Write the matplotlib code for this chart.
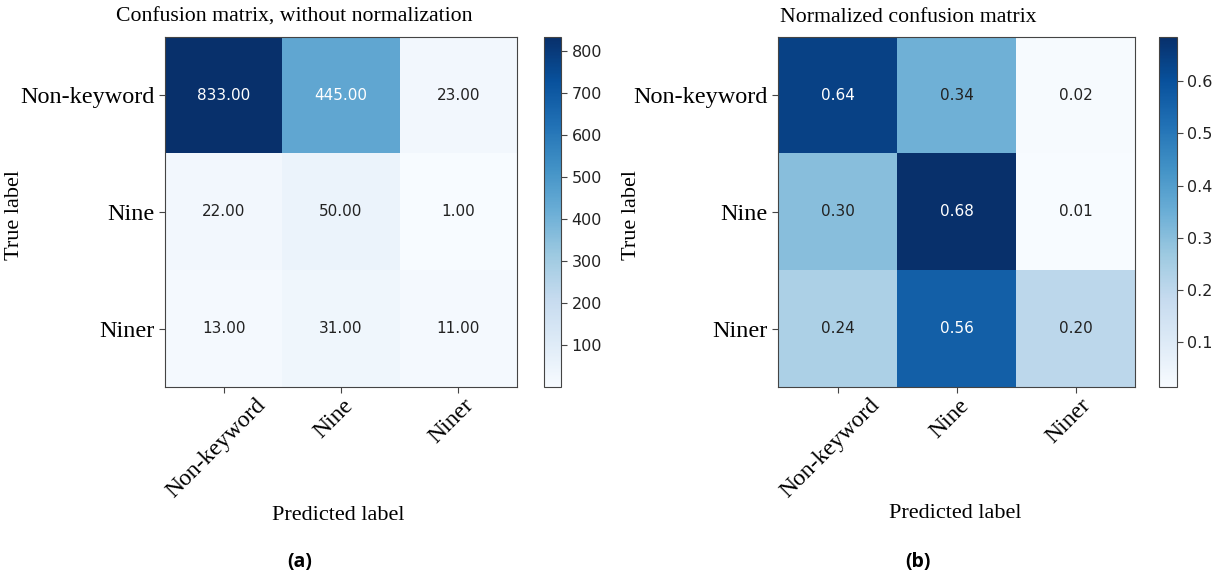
import numpy as np
import matplotlib
matplotlib.use("Agg")
import matplotlib.pyplot as plt
import matplotlib.transforms as mtransforms

classes = ["Non-keyword", "Nine", "Niner"]
counts = np.array([[833, 445, 23],
                   [22, 50, 1],
                   [13, 31, 11]], dtype=float)
normalized = counts / counts.sum(axis=1, keepdims=True)

W, H = 1225, 579
fig = plt.figure(figsize=(W / 100, H / 100), dpi=100)

serif = "Liberation Serif"
spine_col = "#444444"


def draw(ax_rect, cb_rect, cm, title, title_x, cb_ticks, cb_fmt,
         ylab_x, xlab_x, xlab_y, sub, sub_x):
    ax = fig.add_axes(ax_rect)
    im = ax.imshow(cm, cmap="Blues", interpolation="nearest", aspect="auto")
    thresh = cm.max() / 2.0
    for i in range(3):
        for j in range(3):
            ax.text(j, i, format(cm[i, j], ".2f"), ha="center", va="center",
                    fontsize=11, family="DejaVu Sans",
                    color="white" if cm[i, j] > thresh else "#222222")
    ax.set_xticks(range(3))
    ax.set_yticks(range(3))
    ax.set_xticklabels([""] * len(classes))
    ax.set_yticklabels(classes, family=serif, fontsize=17.5)
    offset = mtransforms.ScaledTranslation(-7 / 100, -8 / 100, fig.dpi_scale_trans)
    trans = ax.get_xaxis_transform() + offset
    for j, name in enumerate(classes):
        ax.text(j, 0, name, rotation=45, ha="center", va="top",
                family=serif, fontsize=17, transform=trans)
    ax.tick_params(color=spine_col, length=4)
    for s in ax.spines.values():
        s.set_color(spine_col)
    fig.text(title_x / W, 1 - 17 / H, title, ha="center", va="center",
             family=serif, fontsize=15.7)
    fig.text(ylab_x / W, 1 - 215 / H, "True label", ha="center", va="center",
             rotation=90, family=serif, fontsize=16)
    fig.text(xlab_x / W, 1 - xlab_y / H, "Predicted label", ha="center", va="center",
             family=serif, fontsize=16)
    cax = fig.add_axes(cb_rect)
    cb = fig.colorbar(im, cax=cax)
    cb.set_ticks(cb_ticks)
    cb.ax.set_yticklabels([cb_fmt(t) for t in cb_ticks])
    cb.ax.tick_params(labelsize=11.5, color=spine_col, labelcolor="#222222", length=4)
    cb.outline.set_edgecolor(spine_col)
    fig.text(sub_x / W, 1 - 562 / H, sub, ha="center", va="center",
             fontsize=14, fontweight="bold", family="Open Sans")
    return ax


draw([165 / W, 192 / H, 352 / W, 350 / H], [544 / W, 192 / H, 17 / W, 350 / H],
     counts, "Confusion matrix, without normalization", 294,
     [100, 200, 300, 400, 500, 600, 700, 800], lambda t: f"{t:d}",
     15, 338, 515, "(a)", 300)
draw([778 / W, 192 / H, 357 / W, 350 / H], [1159 / W, 192 / H, 18 / W, 350 / H],
     normalized, "Normalized confusion matrix", 908,
     [0.1, 0.2, 0.3, 0.4, 0.5, 0.6], lambda t: f"{t:.1f}",
     632, 955, 513, "(b)", 918)

fig.savefig("out.png", dpi=100)
